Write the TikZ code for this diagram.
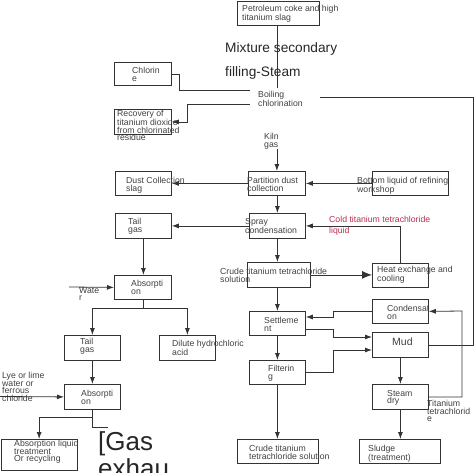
\documentclass[tikz,border=0pt]{standalone}
\usepackage{fontspec}
\setmainfont{Liberation Sans}
\usetikzlibrary{arrows.meta}
\definecolor{coldred}{RGB}{185,45,80}

\begin{document}
\begin{tikzpicture}[x=1pt, y=-1pt,
    box/.style={draw=black!80, line width=0.8pt, inner sep=0pt, anchor=north west},
    txt/.style={inner sep=0pt, anchor=north west, align=left, text=black!75, font=\fontsize{8.7}{7.6}\selectfont},
    flow/.style={-{Latex[length=7pt,width=5pt]}, line width=0.8pt, draw=black!80},
    bigflow/.style={-{Latex[length=10pt,width=8pt]}, line width=0.8pt, draw=black!80},
    link/.style={line width=0.8pt, draw=black!80}]
    \useasboundingbox (0,0) rectangle (474,472);

    \node[box, minimum width=82pt, minimum height=24.5pt] (coke) at (237,0.5) {};
    \node[box, minimum width=57pt, minimum height=23pt] (chlor) at (114,62) {};
    \node[box, minimum width=57pt, minimum height=25pt] (recov) at (114,109) {};
    \node[box, minimum width=56pt, minimum height=24pt] (dust) at (115,171) {};
    \node[box, minimum width=57pt, minimum height=24pt] (part) at (248,171) {};
    \node[box, minimum width=76pt, minimum height=24pt] (bottom) at (372,171) {};
    \node[box, minimum width=56pt, minimum height=25pt] (tailA) at (115,213) {};
    \node[box, minimum width=56pt, minimum height=25pt] (spray) at (249,213) {};
    \node[box, minimum width=63pt, minimum height=25pt] (crude) at (247,262) {};
    \node[box, minimum width=56pt, minimum height=24pt] (heat) at (372,263) {};
    \node[box, minimum width=57pt, minimum height=24pt] (absA) at (114,275) {};
    \node[box, minimum width=56pt, minimum height=25pt] (tailB) at (64,335) {};
    \node[box, minimum width=56pt, minimum height=25pt] (dilute) at (159,335) {};
    \node[box, minimum width=56pt, minimum height=24pt] (settle) at (249,311) {};
    \node[box, minimum width=56pt, minimum height=24pt] (cond) at (372,299) {};
    \node[box, minimum width=56pt, minimum height=25pt] (mud) at (372,332) {};
    \node[box, minimum width=56pt, minimum height=24pt] (filt) at (249,360) {};
    \node[box, minimum width=56pt, minimum height=25pt] (steam) at (372,384) {};
    \node[box, minimum width=56pt, minimum height=25pt] (absB) at (64,384) {};
    \node[box, minimum width=76.5pt, minimum height=31pt] (liquor) at (0.5,439) {};
    \node[box, minimum width=81pt, minimum height=24pt] (crudeB) at (237,439) {};
    \node[box, minimum width=81pt, minimum height=24pt] (sludge) at (359,439) {};

    \node[txt] (cokeT) at (242,5) {Petroleum coke and high\\titanium slag};
    \node[txt, font=\fontsize{13.7}{15}\selectfont, text=black!85] (mixT) at (225,42) {Mixture secondary};
    \node[txt, font=\fontsize{13.7}{15}\selectfont, text=black!85] (fillT) at (225,66) {filling-Steam};
    \node[txt] (chlorT) at (132,67) {Chlorin\\e};
    \node[txt] (boil) at (258,91) {Boiling\\chlorination};
    \node[txt] (recovT) at (117,110) {Recovery of\\titanium dioxide\\from chlorinated\\residue};
    \node[txt] (kiln) at (264,133) {Kiln\\gas};
    \node[txt] (dustT) at (126,177) {Dust Collection\\slag};
    \node[txt] (partT) at (247,177) {Partition dust\\collection};
    \node[txt] (bottomT) at (357,177) {Bottom liquid of refining\\workshop};
    \node[txt] (tailAT) at (128,218) {Tail\\gas};
    \node[txt] (sprayT) at (245,218) {Spray\\condensation};
    \node[txt, text=coldred, font=\fontsize{8.7}{10.5}\selectfont] (coldT) at (329,216) {Cold titanium tetrachloride\\liquid};
    \node[txt] (crudeT) at (220,268) {Crude titanium tetrachloride\\solution};
    \node[txt] (heatT) at (377,266) {Heat exchange and\\cooling};
    \node[txt] (absAT) at (131,280) {Absorpti\\on};
    \node[txt] (waterT) at (79,287) {Wate\\r};
    \node[txt] (tailBT) at (80,338) {Tail\\gas};
    \node[txt] (diluteT) at (172,340) {Dilute hydrochloric\\acid};
    \node[txt] (settleT) at (264,317) {Settleme\\nt};
    \node[txt] (condT) at (387,305) {Condensat\\on};
    \node[txt, font=\fontsize{10.5}{12}\selectfont] (mudT) at (392,338) {Mud};
    \node[txt] (filtT) at (268,365) {Filterin\\g};
    \node[txt] (steamT) at (387,390) {Steam\\dry};
    \node[txt] (tiT) at (427,400) {Titanium\\tetrachlorid\\e};
    \node[txt] (absBT) at (81,390) {Absorpti\\on};
    \node[txt] (lyeT) at (2,372) {Lye or lime\\water or\\ferrous\\chloride};
    \node[txt] (liquorT) at (14,440) {Absorption liquid\\treatment\\Or recycling};
    \node[txt, font=\fontsize{26}{27}\selectfont, text=black!85] (gasT) at (98,431) {[Gas\\exhau};
    \node[txt] (crudeBT) at (249,445) {Crude titanium\\tetrachloride solution};
    \node[txt] (sludgeT) at (368,445) {Sludge\\(treatment)};

    \coordinate (boilin) at (250,90);
    \coordinate (boilout) at (250,104);
    \coordinate (boilright) at (320,97);
    \coordinate (cokedown) at (277,88);
    \coordinate (waterin) at (69,287);
    \coordinate (lyein) at (0,396.5);
    \coordinate (gasin) at (108,427);

    \draw[link] (coke.south -| cokedown) -- (cokedown);
    \draw[link] (chlor.east) -- ++(8,0) |- (boilin);
    \draw[flow] (boilout) -| ([xshift=16pt]recov.east) -- (recov.east);
    \draw[flow] (part.north |- kiln.south) -- (part.north);
    \draw[flow] (bottom.west) -- (part.east);
    \draw[flow] (part.west) -- (dust.east);
    \draw[flow] (part.south -| spray.north) -- (spray.north);
    \draw[flow] (spray.west) -- (tailA.east);
    \draw[flow] (spray.south) -- (spray.south |- crude.north);
    \draw[bigflow] (crude.east) -- (heat.west |- crude.east);
    \draw[flow] (heat.north) |- (spray.east);
    \draw[flow] (settle.north |- crude.south) -- (settle.north);
    \draw[flow] (settle.south) -- (filt.north);
    \draw[flow] (filt.south) -- (filt.south |- crudeB.north);
    \draw[flow] (cond.west) -| (333,317) -- (settle.east |- 0,317);
    \draw[flow] (settle.east |- 0,329) -| (333,337) -- (mud.west |- 0,337);
    \draw[flow] (filt.east) -| (333,350) -- (mud.west |- 0,350);
    \draw[flow] (mud.south) -- (steam.north);
    \draw[flow] (steam.south) -- (steam.south |- sludge.north);
    \draw[flow] (steam.east) -| (462,311) -- (cond.east);
    \draw[link] (mud.east) -| (473,97) -- (boilright);

    \draw[flow] (tailA.south) -- (tailA.south |- absA.north);
    \draw[flow] (waterin) -- (absA.west);
    \draw[flow] (absA.south) -- ++(0,9) -| (tailB.north);
    \draw[flow] (absA.south) -- ++(0,9) -| (dilute.north);
    \draw[flow] (tailB.south) -- (absB.north);
    \draw[flow] (lyein) -- (absB.west);
    \draw[flow] (absB.south) -- ++(0,8) -| (liquor.north);
    \draw[link] (absB.south) |- (gasin);
\end{tikzpicture}
\end{document}
